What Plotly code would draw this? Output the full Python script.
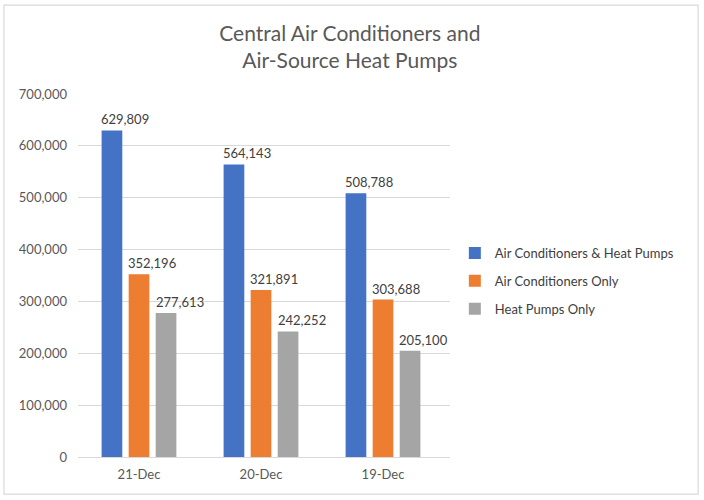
import plotly.graph_objects as go

# data
categories = ["21-Dec", "20-Dec", "19-Dec"]
ac_and_hp = [629809, 564143, 508788]
ac_only = [352196, 321891, 303688]
hp_only = [277613, 242252, 205100]
y_ticks = [0, 100000, 200000, 300000, 400000, 500000, 600000, 700000]

series = [
    ("Air Conditioners & Heat Pumps", ac_and_hp, "#4472C4"),
    ("Air Conditioners Only", ac_only, "#ED7D31"),
    ("Heat Pumps Only", hp_only, "#A5A5A5"),
]

font_name = "Lato"
text_color = "#595959"

fig = go.Figure()
for i, (name, vals, color) in enumerate(series):
    fig.add_trace(go.Bar(
        name=name,
        x=categories,
        y=vals,
        marker_color=color,
        marker_line_width=0,
        legendgroup="g%d" % i,
    ))

# value labels above each bar (excel puts them a bit to the right)
bar_pitch = 27.5
for i, (name, vals, color) in enumerate(series):
    for cat, v in zip(categories, vals):
        fig.add_annotation(
            x=cat, y=v, xref="x", yref="y",
            text=f"{v:,}",
            showarrow=False,
            yanchor="bottom",
            xshift=(i - 1) * bar_pitch + 13,
            yshift=1,
            font=dict(family=font_name, size=13, color="#404040"),
        )

# light border round the whole chart
fig.add_shape(type="rect", xref="paper", yref="paper",
              x0=-0.199, x1=1.667, y0=-0.102, y1=1.245,
              line=dict(color="#d9d9d9", width=1.2))

fig.update_layout(
    width=704, height=500,
    paper_bgcolor="white", plot_bgcolor="white",
    margin=dict(l=78, r=254, t=94, b=43),
    barmode="group",
    bargap=0.335,
    bargroupgap=0.235,
    title=dict(
        text="Central Air Conditioners and<br>Air-Source Heat Pumps",
        x=0.497, xanchor="center", y=0.918, yanchor="bottom",
        font=dict(family=font_name, size=21, color=text_color),
    ),
    font=dict(family=font_name, size=13, color=text_color),
    legend=dict(
        x=1.013, y=0.485, xanchor="left", yanchor="middle",
        font=dict(family=font_name, size=13, color="#404040"),
        tracegroupgap=8,
        itemwidth=30,
    ),
)

fig.update_yaxes(
    range=[0, 700000],
    tickvals=y_ticks,
    tickformat=",",
    showgrid=True, gridcolor="#d9d9d9", gridwidth=1,
    zeroline=True, zerolinecolor="#d9d9d9", zerolinewidth=1,
    showline=False,
    ticklabelstandoff=10,
    tickfont=dict(size=13, color=text_color),
)
fig.update_xaxes(
    showline=False,
    tickfont=dict(size=13, color=text_color),
    ticklabelstandoff=8,
)

# drop the default body margin so the figure sits at the page corner
fig.write_html("out.html", config={"displayModeBar": False},
               post_script="document.body.style.margin='0';")
